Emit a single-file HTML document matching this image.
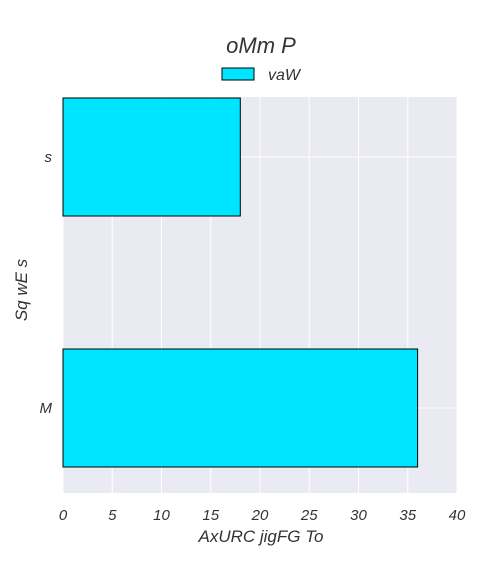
<!DOCTYPE html>
<html><head><meta charset="utf-8"><style>
body{margin:0;background:#fff;font-family:"Liberation Sans","DejaVu Sans",sans-serif;}
svg text{font-style:italic;fill:#333;}
</style></head><body>
<svg width="480" height="560" xmlns="http://www.w3.org/2000/svg" id="svg">
<rect x="0" y="0" width="480" height="560" fill="#fff"/>
<text x="261" y="53" font-size="22" text-anchor="middle">oMm P</text>
<rect x="222" y="68" width="32" height="12" fill="#00e5ff" stroke="#000" stroke-width="1"/>
<text x="268" y="80" font-size="16">vaW</text>
<rect x="63" y="97" width="394" height="396" fill="#eaeaf2"/>
<g id="grid"></g><g id="bars"></g><g id="ticks"></g>
<text x="261" y="542" font-size="17" text-anchor="middle">AxURC jigFG To</text>
<text transform="translate(27,290) rotate(-90)" font-size="17" text-anchor="middle">Sq wE s</text>
</svg>
<script>
const categories=["s","M"];
const values=[18,36];
const xTicks=[0,5,10,15,20,25,30,35,40];
const NS="http://www.w3.org/2000/svg";
const x=v=>63+v*(394/40);
const yC=i=>157+i*251;
const bh=118;
function mk(t,a,p){const e=document.createElementNS(NS,t);for(const k in a)e.setAttribute(k,a[k]);p.appendChild(e);return e;}
const g=document.getElementById('grid'),b=document.getElementById('bars'),tk=document.getElementById('ticks');
xTicks.forEach(v=>{
const l=mk('line',{x1:x(v),x2:x(v),y1:97,y2:493,stroke:'#fff','stroke-width':1},g);


const t=mk('text',{x:x(v),y:520,'font-size':15,'text-anchor':'middle'},tk);
t.textContent=v;


});
categories.forEach((c,i)=>{
const l=mk('line',{x1:63,x2:457,y1:yC(i),y2:yC(i),stroke:'#fff','stroke-width':1},g);


const r=mk('rect',{x:x(0),y:yC(i)-bh/2,width:x(values[i])-x(0),height:bh,fill:'#00e5ff',stroke:'#000','stroke-width':1},b);


const t=mk('text',{x:52,y:yC(i)+5,'font-size':15,'text-anchor':'end'},tk);
t.textContent=c;


});
</script>
</body></html>
